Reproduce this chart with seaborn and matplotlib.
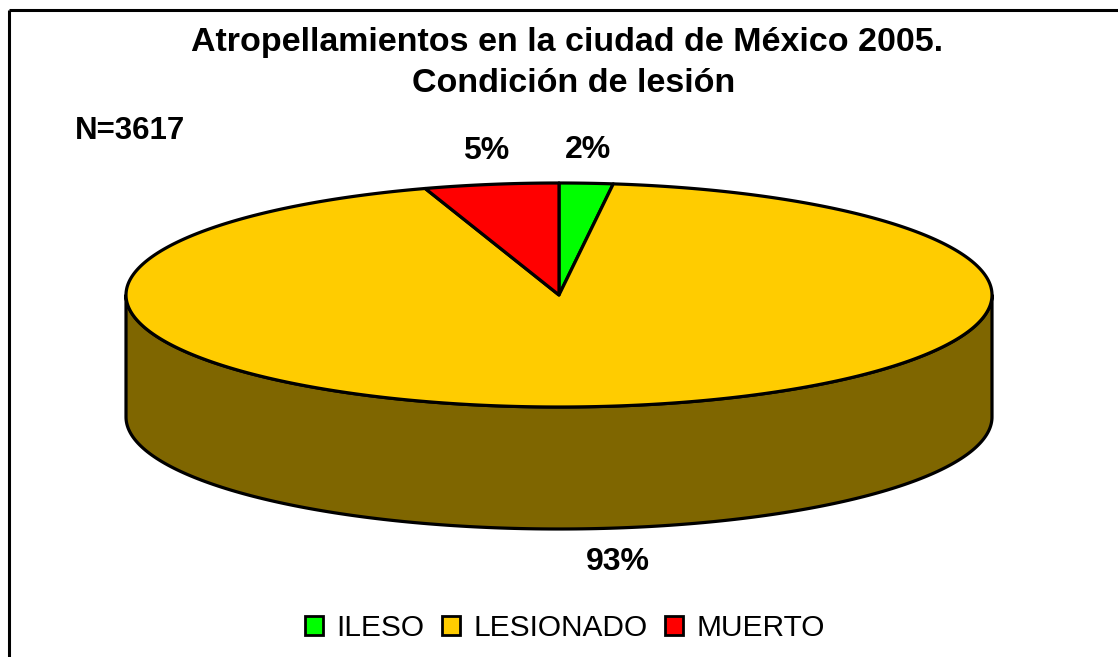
import numpy as np
import seaborn as sns
import matplotlib.pyplot as plt
from matplotlib.patches import Patch

# datos del grafico
categorias = ['ILESO', 'LESIONADO', 'MUERTO']
porcentajes = [2, 93, 5]
colores = ['#00FF00', '#FFCC00', '#FF0000']
color_lado = '#7F6600'
titulo_1 = 'Atropellamientos en la ciudad de México 2005.'
titulo_2 = 'Condición de lesión'
texto_n = 'N=3617'

sns.set_theme(style='white')
plt.rcParams['font.family'] = ['Liberation Sans', 'DejaVu Sans']
plt.rcParams['text.color'] = 'black'

W, H = 1118, 657
fig = plt.figure(figsize=(W / 100, H / 100), dpi=100)
ax = fig.add_axes([0, 0, 1, 1])
ax.set_xlim(0, W)
ax.set_ylim(H, 0)
ax.axis('off')

# geometria del pastel 3D (pixeles)
cx, cy = 559, 295
a, b = 433, 112
prof = 122
lw = 2.3

# pared frontal
t = np.linspace(0, np.pi, 200)
x_sup = cx + a * np.cos(t)
y_sup = cy + b * np.sin(t)
px = np.concatenate([x_sup, x_sup[::-1]])
py = np.concatenate([y_sup, y_sup[::-1] + prof])
ax.fill(px, py, facecolor=color_lado, edgecolor='black', lw=lw, joinstyle='round', zorder=1)

# rebanadas superiores (angulo en sentido horario desde arriba)
total = sum(porcentajes)
inicio = 0.0
medios = []
for cat, val, col in zip(categorias, porcentajes, colores):
    fin = inicio + 360 * val / total
    th = np.radians(np.linspace(inicio, fin, max(int(fin - inicio) * 2, 10)))
    xs = np.concatenate([[cx], cx + a * np.sin(th)])
    ys = np.concatenate([[cy], cy - b * np.cos(th)])
    ax.fill(xs, ys, facecolor=col, edgecolor='black', lw=lw, joinstyle='round', zorder=2)
    medios.append(np.radians((inicio + fin) / 2))
    inicio = fin

# etiquetas de porcentaje
for val, m in zip(porcentajes, medios):
    lx = cx + a * 1.08 * np.sin(m)
    ly = cy - b * 1.3 * np.cos(m)
    if np.cos(m) < 0:
        lx += 15
        ly += prof
    ax.text(lx, ly, f'{val}%', ha='center', va='center', fontsize=23,
            fontweight='bold', color='black')

# titulo y N
ax.text(567, 42, titulo_1, ha='center', va='center', fontsize=24.5, fontweight='bold')
ax.text(574, 84, titulo_2, ha='center', va='center', fontsize=24.5, fontweight='bold')
ax.text(75, 131, texto_n, ha='left', va='center', fontsize=22.5, fontweight='bold')

# marco
ax.plot([9, W], [10, 10], color='black', lw=2.2, solid_capstyle='butt')
ax.plot([9, 9], [10, H], color='black', lw=2.2, solid_capstyle='butt')

# leyenda
handles = [Patch(facecolor=c, edgecolor='black', lw=2) for c in colores]
fig.legend(handles, categorias, loc='center', bbox_to_anchor=(565 / W, 1 - 628 / H),
           ncol=3, frameon=False, fontsize=21.5, handlelength=0.6, handleheight=0.6,
           handletextpad=0.45, columnspacing=0.6, borderaxespad=0, labelcolor='black')

fig.savefig('out.png', dpi=100)
